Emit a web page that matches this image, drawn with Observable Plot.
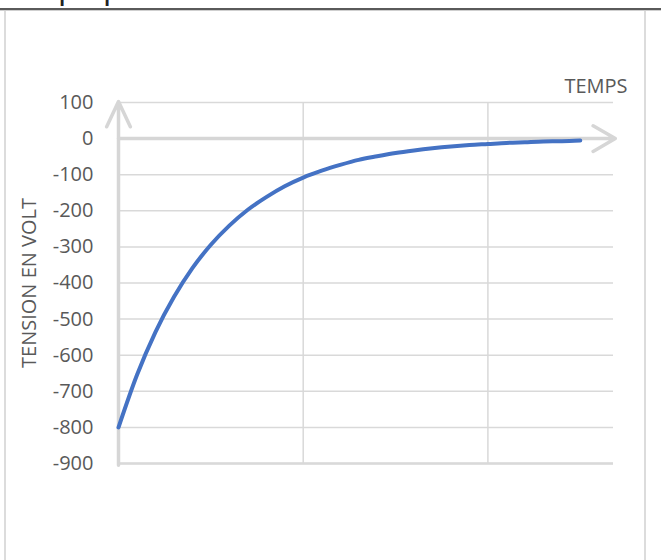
<!DOCTYPE html>
<html>
<head>
<meta charset="utf-8">
<script src="https://cdn.jsdelivr.net/npm/d3@7"></script>
<script src="https://cdn.jsdelivr.net/npm/@observablehq/plot@0.6"></script>
<style>
  html, body { margin: 0; padding: 0; background: #fff; }
  body { width: 661px; height: 560px; overflow: hidden; position: relative; font-family: "Open Sans", sans-serif; }
  #titleclip { position: absolute; left: 0; top: 0; width: 661px; height: 8px; overflow: hidden; }
  #title { position: absolute; left: 17px; top: -21px; font-size: 24px; line-height: 24px; font-weight: 600; color: #222; white-space: nowrap; }
  #rule { position: absolute; left: 0; top: 8px; width: 661px; height: 2px; background: #5a5a5a; }
  #rule2 { position: absolute; left: 0; top: 10px; width: 661px; height: 1px; background: #cfcfcf; }
  #frame { position: absolute; left: 4px; top: 11px; width: 638px; height: 560px; border-left: 2px solid #dcdcdc; border-right: 2px solid #dcdcdc; }
  #chart { position: absolute; left: 0; top: 10px; }
</style>
</head>
<body>
<div id="titleclip"><div id="title">Graphique 2</div></div>
<div id="rule"></div>
<div id="rule2"></div>
<div id="frame"></div>
<div id="chart"></div>
<script>
// Data
const time    = [0, 0.1, 0.2, 0.3, 0.4, 0.5, 0.6, 0.7, 0.8, 0.9, 1.0, 1.1, 1.2, 1.3, 1.4, 1.5, 1.6, 1.7, 1.8, 1.9, 2.0, 2.1, 2.2, 2.3, 2.4, 2.5];
const tension = [-800, -655, -536, -439, -359, -294, -241, -197, -162, -132, -108, -89, -73, -59, -49, -40, -33, -27, -22, -18, -15, -12, -10, -8, -7, -5];
const yTicks  = [100, 0, -100, -200, -300, -400, -500, -600, -700, -800, -900];
const xGrid   = [1, 2];
const xDomain = [0, 2.68];
const yDomain = [-900, 100];
const yAxisArrow = [{x: 0, y1: -905, y2: 103}];
const xAxisArrow = [{y: 0, x1: 0, x2: 2.69}];
const xTitle = "TEMPS";
const yTitle = "TENSION EN VOLT";

const data = time.map((t, i) => ({t, v: tension[i]}));

const gridColor = "#d9d9d9";
const textColor = "#595959";

const chart = Plot.plot({
  width: 661,
  height: 550,
  marginLeft: 118,
  marginRight: 48,
  marginTop: 92,
  marginBottom: 97,
  style: {fontFamily: "'Open Sans', sans-serif", fontSize: "20px", color: textColor, background: "transparent", overflow: "visible"},
  x: {domain: xDomain, axis: null},
  y: {domain: yDomain, axis: null},
  marks: [
    Plot.ruleY(yTicks, {stroke: gridColor, strokeWidth: 1.5}),
    Plot.ruleX(xGrid, {y1: yDomain[0], y2: yDomain[1], stroke: gridColor, strokeWidth: 1.5}),
    Plot.ruleY([yDomain[0]], {stroke: gridColor, strokeWidth: 2.5}),
    Plot.axisY({ticks: yTicks, tickSize: 0, tickPadding: 25, fontSize: 20, fill: textColor, label: null, tickFormat: d => String(d).replace("−", "-")}),
    Plot.arrow(yAxisArrow, {x1: "x", x2: "x", y1: "y1", y2: "y2", stroke: "#d6d6d6", strokeWidth: 3.5, headLength: 12, headAngle: 50}),
    Plot.arrow(xAxisArrow, {x1: "x1", x2: "x2", y1: "y", y2: "y", stroke: "#d6d6d6", strokeWidth: 3.5, headLength: 11, headAngle: 60}),
    Plot.line(data, {x: "t", y: "v", stroke: "#4472C4", strokeWidth: 4, curve: "monotone-x"}),
    Plot.text([xTitle], {frameAnchor: "top-right", textAnchor: "end", lineAnchor: "bottom", dx: 14, dy: -10, fontSize: 20, fill: textColor}),
    Plot.text([yTitle], {frameAnchor: "left", rotate: -90, textAnchor: "middle", lineAnchor: "bottom", dx: -83, fontSize: 20, fill: textColor})
  ]
});
document.getElementById("chart").appendChild(chart);
</script>
</body>
</html>
